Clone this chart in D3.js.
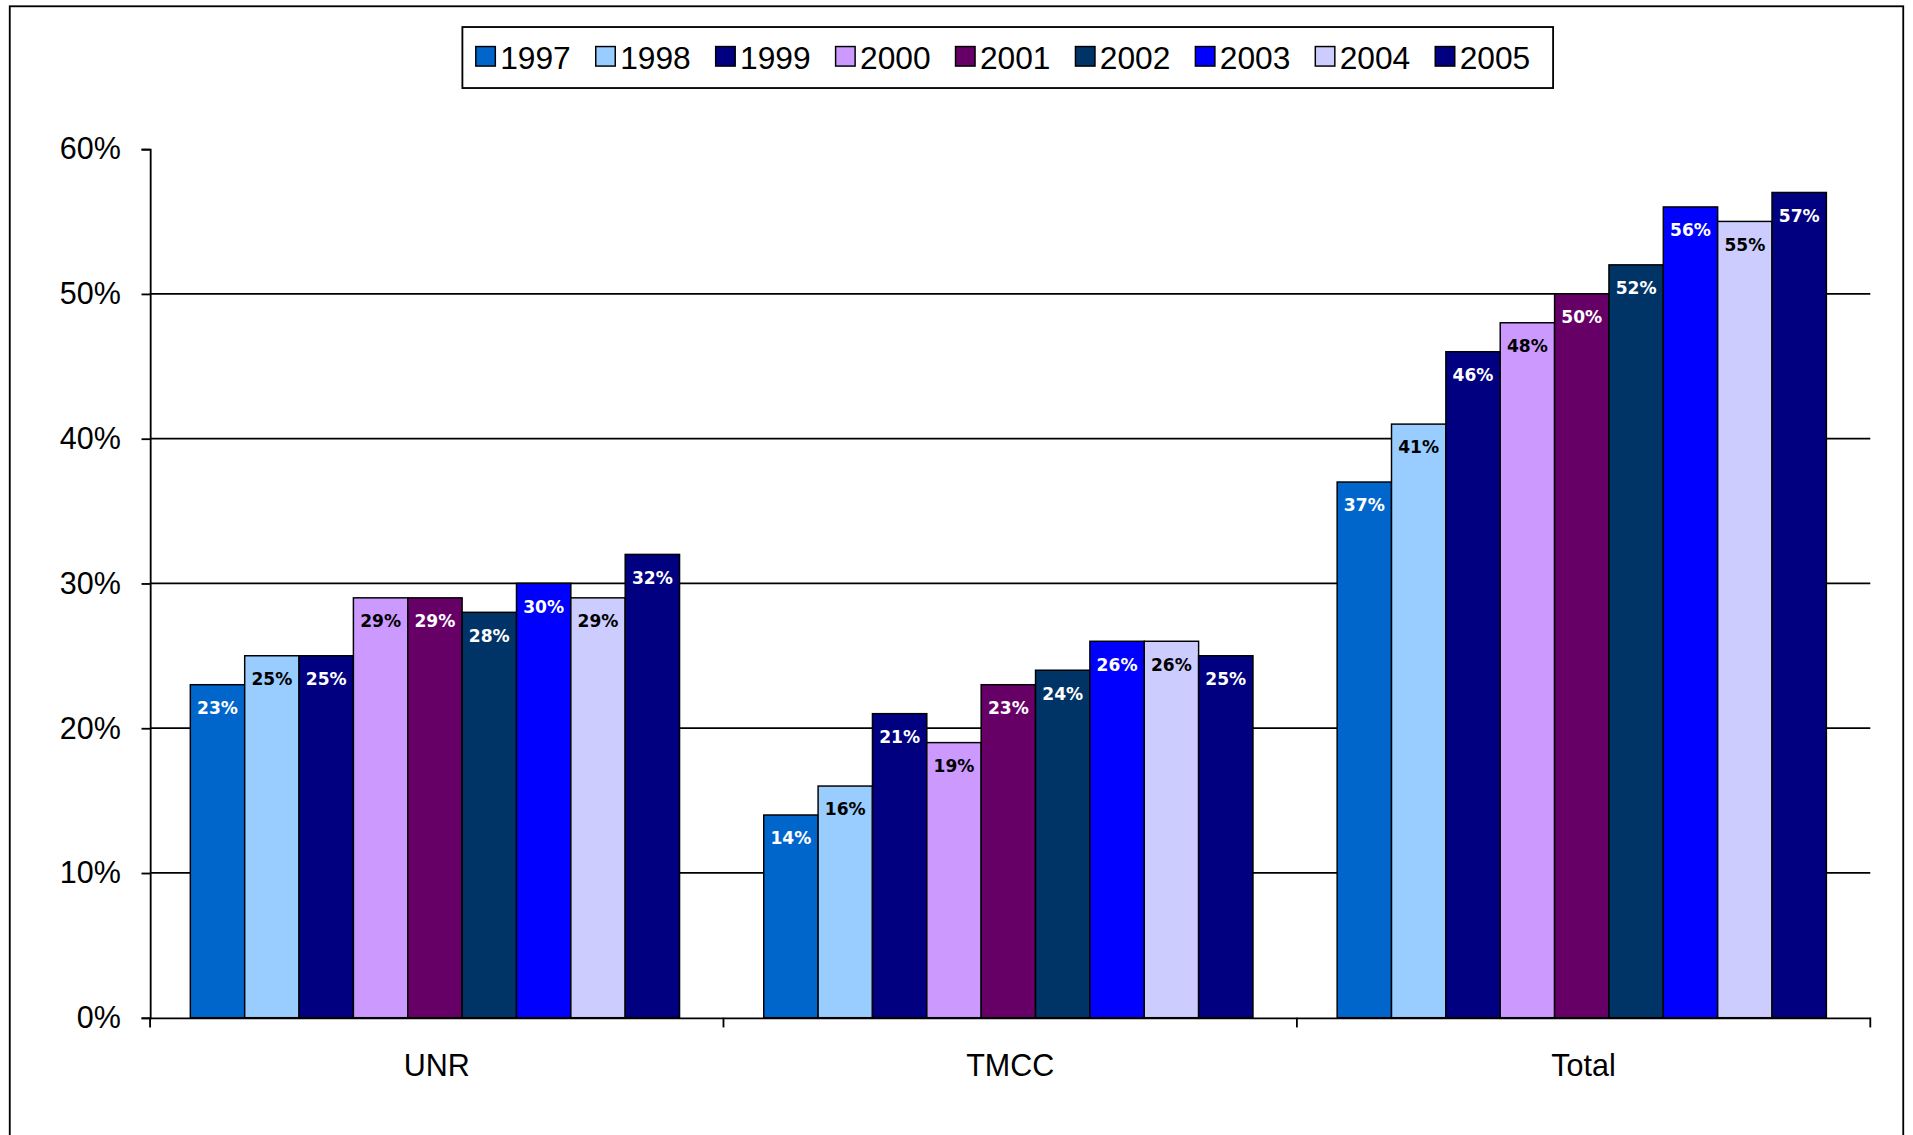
<!DOCTYPE html>
<html>
<head>
<meta charset="utf-8">
<script src="https://d3js.org/d3.v7.min.js"></script>
<style>
  body { margin: 0; background: #fff; }
  text { font-family: 'Liberation Sans', Arial, sans-serif; }
</style>
</head>
<body>
<div id="chart"></div>
<script>
var categories = ['UNR', 'TMCC', 'Total'];
var years = ['1997', '1998', '1999', '2000', '2001', '2002', '2003', '2004', '2005'];
var colors = ['#0066CC', '#99CCFF', '#000080', '#CC99FF', '#660066', '#003366', '#0000FF', '#CCCCFF', '#000080'];
var labelColors = ['#fff', '#000', '#fff', '#000', '#fff', '#fff', '#fff', '#000', '#fff'];
var valuesUNR = [23, 25, 25, 29, 29, 28, 30, 29, 32];
var valuesTMCC = [14, 16, 21, 19, 23, 24, 26, 26, 25];
var valuesTotal = [37, 41, 46, 48, 50, 52, 56, 55, 57];
var yTicks = [0, 10, 20, 30, 40, 50, 60];

var series = [valuesUNR, valuesTMCC, valuesTotal];

// work in the original 1568x930 space, scaled to the window
var W = 1568, H = 930;
var svg = d3.select('#chart').append('svg')
  .attr('width', 1913).attr('height', 1135)
  .attr('viewBox', '0 0 ' + W + ' ' + H);

svg.append('rect').attr('x', 8).attr('y', 5).attr('width', 1552).attr('height', 940)
  .style('fill', '#fff').style('stroke', '#000').style('stroke-width', 1.5);

var pLeft = 123, pRight = 1533, pTop = 122, pBottom = 834;

var x0 = d3.scaleBand().domain(categories).range([pLeft, pRight]).paddingInner(0).paddingOuter(0);
var x1 = d3.scaleBand().domain(years).range([33, 470 - 36]).padding(0);
var y = d3.scaleLinear().domain([0, 60]).range([pBottom, pTop]);

// gridlines
svg.append('g').selectAll('line').data(yTicks.filter(function(d) { return d > 0 && d < 60; }))
  .join('line')
  .attr('x1', pLeft).attr('x2', pRight)
  .attr('y1', function(d) { return y(d); }).attr('y2', function(d) { return y(d); })
  .style('stroke', '#000').style('stroke-width', 1.5);

// bars
var groups = svg.append('g').selectAll('g').data(categories).join('g')
  .attr('transform', function(d) { return 'translate(' + x0(d) + ',0)'; });

groups.each(function(cat, ci) {
  var g = d3.select(this);
  var vals = series[ci];
  g.selectAll('rect').data(vals).join('rect')
    .attr('x', function(d, i) { return x1(years[i]); })
    .attr('y', function(d) { return y(d); })
    .attr('width', x1.bandwidth())
    .attr('height', function(d) { return y(0) - y(d); })
    .style('fill', function(d, i) { return colors[i]; })
    .style('stroke', '#000').style('stroke-width', 1.2);
  g.selectAll('text').data(vals).join('text')
    .attr('x', function(d, i) { return x1(years[i]) + x1.bandwidth() / 2; })
    .attr('y', function(d) { return y(d) + 24; })
    .attr('text-anchor', 'middle')
    .style('font-family', "'DejaVu Sans', sans-serif")
    .style('font-weight', 'bold')
    .style('font-size', '14px')
    .style('fill', function(d, i) { return labelColors[i]; })
    .text(function(d) { return d + '%'; });
});

// y axis
var yAxis = d3.axisLeft(y).tickValues(yTicks).tickSize(7).tickFormat(function(d) { return d + '%'; });
var ya = svg.append('g').attr('transform', 'translate(' + pLeft + ',0)').call(yAxis);
ya.select('.domain').style('stroke', '#000').style('stroke-width', 1.5);
ya.selectAll('.tick line').style('stroke', '#000').style('stroke-width', 1.5);
ya.selectAll('.tick text').attr('x', -24).style('font-size', '25px').style('fill', '#000')
  .style('font-family', "'Liberation Sans', Arial, sans-serif");

// x axis
var xAxis = d3.axisBottom(x0).tickSize(0).tickFormat(function(d) { return d; });
var xa = svg.append('g').attr('transform', 'translate(0,' + pBottom + ')').call(xAxis);
xa.select('.domain').style('stroke', '#000').style('stroke-width', 1.5);
xa.selectAll('.tick text').attr('y', 30).style('font-size', '25px').style('fill', '#000')
  .style('font-family', "'Liberation Sans', Arial, sans-serif");
svg.append('g').selectAll('line').data(categories.concat(['end']))
  .join('line')
  .attr('x1', function(d, i) { return pLeft + i * x0.bandwidth(); })
  .attr('x2', function(d, i) { return pLeft + i * x0.bandwidth(); })
  .attr('y1', pBottom).attr('y2', pBottom + 8)
  .style('stroke', '#000').style('stroke-width', 1.5);

// legend
var lg = svg.append('g');
lg.append('rect').attr('x', 379).attr('y', 22).attr('width', 894).attr('height', 50)
  .style('fill', '#fff').style('stroke', '#000').style('stroke-width', 1.5);
var step = 98.3;
var items = lg.selectAll('g').data(years).join('g')
  .attr('transform', function(d, i) { return 'translate(' + (390 + i * step) + ',0)'; });
items.append('rect').attr('x', 0).attr('y', 38).attr('width', 16).attr('height', 16)
  .style('fill', function(d, i) { return colors[i]; })
  .style('stroke', '#000').style('stroke-width', 1.2);
items.append('text').attr('x', 20).attr('y', 56).style('font-size', '26px').style('fill', '#000')
  .text(function(d) { return d; });
</script>
</body>
</html>
